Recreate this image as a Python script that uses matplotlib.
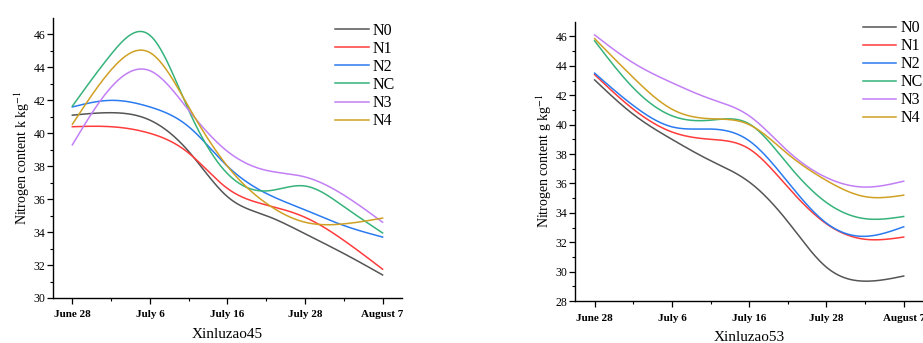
import numpy as np
import matplotlib
matplotlib.use("Agg")
import matplotlib.pyplot as plt

plt.rcParams['font.family'] = ['Liberation Serif', 'DejaVu Serif']
plt.rcParams['mathtext.fontset'] = 'stix'

dates = ["June 28", "July 6", "July 16", "July 28", "August 7"]
series_names = ["N0", "N1", "N2", "NC", "N3", "N4"]
colors = ["#555555", "#ff3b3b", "#2a7bf0", "#36b37a", "#c27ff5", "#cfa023"]

# values read at the major dates and the midpoints between them
pos = [0, 0.5, 1, 1.5, 2, 2.5, 3, 3.5, 4]

x45_N0 = [41.1, 41.25, 40.8, 38.9, 36.15, 35.0, 33.9, 32.7, 31.4]
x45_N1 = [40.4, 40.4, 40.0, 38.8, 36.65, 35.65, 34.9, 33.5, 31.75]
x45_N2 = [41.6, 42.0, 41.6, 40.4, 38.0, 36.35, 35.35, 34.4, 33.7]
x45_NC = [41.65, 44.8, 45.95, 41.4, 37.55, 36.5, 36.8, 35.55, 33.95]
x45_N3 = [39.3, 42.8, 43.8, 41.4, 38.9, 37.75, 37.35, 36.25, 34.6]
x45_N4 = [40.55, 43.85, 44.9, 41.6, 38.0, 35.75, 34.6, 34.5, 34.85]

x53_N0 = [43.04, 40.7, 39.0, 37.55, 36.1, 33.4, 30.3, 29.35, 29.7]
x53_N1 = [43.4, 41.05, 39.5, 39.0, 38.35, 35.75, 33.25, 32.2, 32.35]
x53_N2 = [43.5, 41.3, 39.85, 39.7, 38.9, 36.1, 33.3, 32.4, 33.05]
x53_NC = [45.7, 42.5, 40.6, 40.3, 40.05, 37.3, 34.7, 33.6, 33.75]
x53_N3 = [46.1, 44.2, 42.85, 41.75, 40.6, 38.2, 36.4, 35.75, 36.15]
x53_N4 = [45.85, 43.2, 41.05, 40.4, 40.0, 38.0, 36.2, 35.1, 35.2]

panels = [
    ("Xinluzao45", r"Nitrogen content k kg$^{-1}$", [x45_N0, x45_N1, x45_N2, x45_NC, x45_N3, x45_N4], (30, 47), np.arange(30, 47, 2)),
    ("Xinluzao53", r"Nitrogen content g kg$^{-1}$", [x53_N0, x53_N1, x53_N2, x53_NC, x53_N3, x53_N4], (28, 47), np.arange(28, 47, 2)),
]


def natural_spline(x, y, xs):
    x = np.asarray(x, float); y = np.asarray(y, float)
    n = len(x)
    h = np.diff(x)
    A = np.zeros((n, n)); b = np.zeros(n)
    A[0, 0] = 1; A[-1, -1] = 1
    for i in range(1, n - 1):
        A[i, i - 1] = h[i - 1]
        A[i, i] = 2 * (h[i - 1] + h[i])
        A[i, i + 1] = h[i]
        b[i] = 3 * ((y[i + 1] - y[i]) / h[i] - (y[i] - y[i - 1]) / h[i - 1])
    c = np.linalg.solve(A, b)
    idx = np.clip(np.searchsorted(x, xs) - 1, 0, n - 2)
    dx = xs - x[idx]
    bb = (y[idx + 1] - y[idx]) / h[idx] - h[idx] * (2 * c[idx] + c[idx + 1]) / 3
    d = (c[idx + 1] - c[idx]) / (3 * h[idx])
    return y[idx] + bb * dx + c[idx] * dx ** 2 + d * dx ** 3


fig = plt.figure(figsize=(9.23, 3.43), dpi=100)
rects = [[0.0574, 0.1312, 0.3781, 0.8163], [0.6233, 0.1224, 0.3767, 0.8143]]
legend_anchor = [(0.356, 0.952), (0.928, 0.960)]

for (title, ylab, data, ylim, yt), rect, lanc in zip(panels, rects, legend_anchor):
    ax = fig.add_axes(rect)
    xs = np.linspace(0, 4, 300)
    for name, col, vals in zip(series_names, colors, data):
        ax.plot(xs, natural_spline(pos, vals, xs), color=col, lw=1.1, label=name)
    ax.set_xlim(-0.25, 4.25)
    ax.set_ylim(*ylim)
    ax.set_xticks(range(len(dates)))
    ax.set_xticklabels(dates, fontsize=8, fontweight='bold')
    ax.set_xticks([0.5, 1.5, 2.5, 3.5], minor=True)
    ax.set_yticks(yt)
    ax.set_yticks(np.arange(ylim[0] + 1, ylim[1], 2), minor=True)
    ax.tick_params(axis='y', labelsize=8.5, length=4, width=0.9, pad=1.5)
    ax.tick_params(axis='x', length=4, width=0.9, pad=5)
    ax.tick_params(which='minor', length=2.5, width=0.8)
    ax.spines['top'].set_visible(False)
    ax.spines['right'].set_visible(False)
    for s in ['left', 'bottom']:
        ax.spines[s].set_linewidth(1.0)
    ax.set_xlabel(title, fontsize=11, labelpad=6)
    ax.set_ylabel(ylab, fontsize=10, labelpad=1)
    ax.legend(loc='upper left', bbox_to_anchor=lanc, bbox_transform=fig.transFigure,
              frameon=False, fontsize=11.5, handlelength=2.1, handletextpad=0.25,
              labelspacing=0.13, borderaxespad=0)
    ax.patch.set_alpha(0)

fig.savefig("out.png", dpi=100)
